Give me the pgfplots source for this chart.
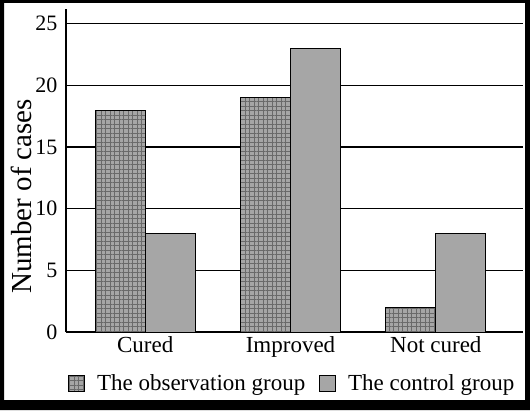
\documentclass[border=0pt]{standalone}
\usepackage{fontspec}
\setmainfont{Liberation Serif}
\usepackage{pgfplots}
\pgfplotsset{compat=1.18}
\usetikzlibrary{patterns.meta}
\definecolor{barg}{HTML}{A6A6A6}
\definecolor{gridc}{HTML}{6A6A6A}
\tikzdeclarepattern{name=mygrid, type=uncolored,
  bottom left={(-0.1pt,-0.1pt)}, top right={(4.6pt,4.6pt)}, tile size={(4.5pt,4.5pt)},
  code={\draw[line width=0.7pt] (0pt,2.25pt) -- (4.5pt,2.25pt) (2.25pt,0pt) -- (2.25pt,4.5pt);}}
\begin{document}
\begin{tikzpicture}[x=1pt,y=1pt]
\useasboundingbox (0,0) rectangle (530,410);
\fill[white] (0,0) rectangle (530,410);
\begin{axis}[
  at={(66pt,78pt)}, anchor=south west,
  scale only axis, width=457pt, height=323pt,
  xmin=-0.545, xmax=2.6, ymin=0, ymax=26.2,
  axis x line*=bottom, axis y line*=left,
  axis line style={black, line width=1.3pt, -},
  xtick=data, xticklabels={Cured,Improved,Not cured},
  ytick={0,5,10,15,20,25},
  ymajorgrids, major grid style={black, line width=1.3pt},
  major tick length=0pt,
  yticklabel style={font=\fontsize{22}{24}\selectfont, xshift=-5pt},
  xticklabel style={font=\fontsize{23}{25}\selectfont, yshift=-1pt},
  /pgf/number format/assume math mode=true,
  ylabel={Number of cases},
  ylabel style={font=\fontsize{29}{31}\selectfont, at={(axis description cs:-0.0985,0.42)}, anchor=center},
  ybar=0pt, bar width=50pt,
  legend style={at={(0.495,-0.158)}, anchor=center, draw=none, fill=none,
    font=\fontsize{23}{25}\selectfont, legend columns=2,
    /tikz/every even column/.append style={column sep=12pt},
    /tikz/every odd column/.append style={column sep=10pt}},
  legend image code/.code={\draw[#1] (0pt,-8pt) rectangle (16pt,8pt);},
]
\addplot[draw=black, line width=0.9pt, fill=barg, postaction={pattern={mygrid}, pattern color=gridc}] coordinates {(0,18) (1,19) (2,2)};
\addplot[draw=black, line width=0.9pt, fill=barg] coordinates {(0,8) (1,23) (2,8)};
\legend{The observation group, The control group}
\end{axis}
\fill[black, even odd rule] (0,0) rectangle (530,410) (4,10) rectangle (525,407);
\end{tikzpicture}
\end{document}
